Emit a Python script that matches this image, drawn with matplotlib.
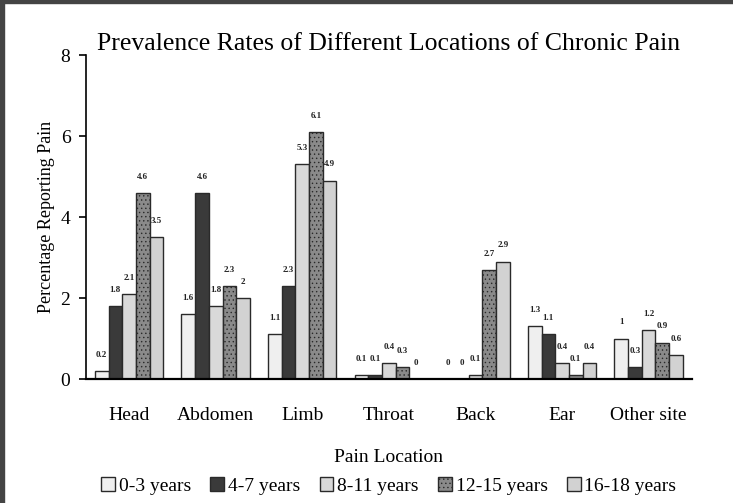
import numpy as np
import matplotlib.pyplot as plt
from matplotlib.patches import Rectangle

plt.rcParams.update({
    "font.family": ["Liberation Serif", "DejaVu Serif"],
    "hatch.linewidth": 0.5,
})

# ========= DATA
locations = ["Head", "Abdomen", "Limb", "Throat", "Back", "Ear", "Other site"]
age_groups = ["0-3 years", "4-7 years", "8-11 years", "12-15 years", "16-18 years"]

age_0_3 = [0.2, 1.6, 1.1, 0.1, 0, 1.3, 1]
age_4_7 = [1.8, 4.6, 2.3, 0.1, 0, 1.1, 0.3]
age_8_11 = [2.1, 1.8, 5.3, 0.4, 0.1, 0.4, 1.2]
age_12_15 = [4.6, 2.3, 6.1, 0.3, 2.7, 0.1, 0.9]
age_16_18 = [3.5, 2, 4.9, 0, 2.9, 0.4, 0.6]

series = [age_0_3, age_4_7, age_8_11, age_12_15, age_16_18]
colors = ["#efefef", "#3a3a3a", "#d9d9d9", "#8a8a8a", "#d2d2d2"]
hatches = [None, None, None, "....", None]

# ========= FIGURE
fig = plt.figure(figsize=(7.33, 5.03), dpi=100)
ax = fig.add_axes([0.117, 0.2465, 0.827, 0.644])

x = np.arange(len(locations))
width = 0.158

for i, (vals, col, h) in enumerate(zip(series, colors, hatches)):
    pos = x + (i - 2) * width
    ax.bar(pos, vals, width, color=col, edgecolor="#2a2a2a", linewidth=1.0,
           hatch=h, label=age_groups[i])
    for p, v in zip(pos, vals):
        ax.text(p, v + 0.3, f"{v:g}", ha="center", va="bottom",
                fontsize=6.5, fontweight="bold", color="#222222")

ax.set_xlim(-0.5, len(locations) - 0.5)
ax.set_ylim(0, 8)
ax.set_yticks([0, 2, 4, 6, 8])
ax.set_xticks(x)
ax.set_xticklabels(locations)
ax.tick_params(axis="x", length=0, labelsize=14, pad=20)
ax.tick_params(axis="y", length=5, width=1.2, labelsize=14, pad=6)

for s in ["top", "right"]:
    ax.spines[s].set_visible(False)
ax.spines["left"].set_linewidth(1.2)
ax.spines["bottom"].set_linewidth(1.6)

ax.set_title("Prevalence Rates of Different Locations of Chronic Pain",
             fontsize=18.5, pad=2)
ax.set_ylabel("Percentage Reporting Pain", fontsize=13, labelpad=4)
ax.set_xlabel("Pain Location", fontsize=14, labelpad=18)

ax.legend(loc="upper center", bbox_to_anchor=(0.5, -0.28), ncol=5,
          frameon=False, fontsize=14, handlelength=0.7, handleheight=0.7,
          handletextpad=0.2, columnspacing=1.0, borderaxespad=0)

# dark scan border on left and top
fig.patches.append(Rectangle((0, 0), 4 / 733, 1, transform=fig.transFigure,
                             color="#444444", zorder=10))
fig.patches.append(Rectangle((0, 1 - 3 / 503), 1, 3 / 503,
                             transform=fig.transFigure, color="#444444", zorder=10))

fig.savefig("out.png", dpi=100)
